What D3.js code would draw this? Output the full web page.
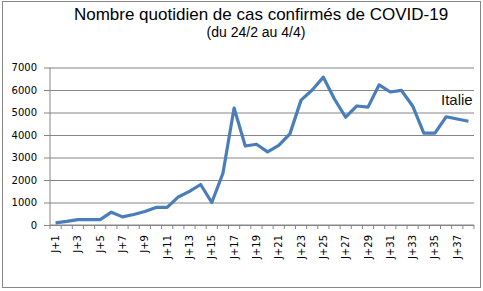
<!DOCTYPE html>
<html lang="fr">
<head>
    <meta charset="UTF-8">
    <title>Nombre quotidien de cas confirmés de COVID-19</title>
    <script src="https://d3js.org/d3.v7.min.js"></script>
    <style>
        body { margin: 0; background: #fff; }
        svg { display: block; }
    </style>
</head>
<body>
    <svg width="483" height="291"></svg>
    <script>
        // Data (Italy, daily new confirmed cases)
        const days = d3.range(1, 39).map(i => "J+" + i);
        const cases = [93, 160, 240, 240, 240, 570, 360, 466, 600, 780,
                       780, 1247, 1492, 1800, 1000, 2300, 5200, 3510, 3590, 3250,
                       3540, 4050, 5550, 6000, 6570, 5590, 4790, 5290, 5240, 6230,
                       5910, 5980, 5290, 4080, 4080, 4810, 4710, 4610];
        const yTicks = [0, 1000, 2000, 3000, 4000, 5000, 6000, 7000];
        const seriesName = "Italie";

        const plot = { left: 50, right: 474, top: 67.5, bottom: 225 };
        const grey = "#868686";

        const svg = d3.select("svg");

        // outer frame
        svg.append("rect")
            .attr("x", 2.5).attr("y", 1.5)
            .attr("width", 478).attr("height", 286)
            .attr("fill", "none")
            .attr("stroke", grey);

        // titles
        svg.append("text")
            .attr("x", 261).attr("y", 19.5)
            .attr("text-anchor", "middle")
            .style("font", "17px 'Liberation Sans', Arial, sans-serif")
            .text("Nombre quotidien de cas confirmés de COVID-19");

        svg.append("text")
            .attr("x", 256).attr("y", 36.5)
            .attr("text-anchor", "middle")
            .style("font", "14px 'Liberation Sans', Arial, sans-serif")
            .text("(du 24/2 au 4/4)");

        // scales
        const x = d3.scaleBand().domain(days).range([plot.left, plot.right]).padding(0);
        const y = d3.scaleLinear().domain([0, 7000]).range([plot.bottom, plot.top]);

        // y axis with gridlines
        const yAxis = svg.append("g")
            .attr("transform", `translate(${plot.left},0)`)
            .call(d3.axisLeft(y).tickValues(yTicks).tickFormat(d3.format("d"))
                .tickSize(-(plot.right - plot.left)).tickPadding(13));
        yAxis.select(".domain").remove();
        yAxis.selectAll(".tick line")
            .attr("x1", -6)
            .attr("stroke", grey);
        yAxis.selectAll(".tick text")
            .style("font", "10px 'DejaVu Sans', sans-serif")
            .attr("fill", "#000");

        svg.append("line")
            .attr("x1", plot.left).attr("x2", plot.left)
            .attr("y1", plot.top).attr("y2", plot.bottom)
            .attr("stroke", grey);

        // x axis: ticks between categories, labels on odd days
        const xAxis = svg.append("g")
            .attr("transform", `translate(0,${plot.bottom})`)
            .call(d3.axisBottom(x).tickSize(0).tickFormat((d, i) => i % 2 === 0 ? d : ""));
        xAxis.select(".domain").remove();
        xAxis.selectAll(".tick text")
            .attr("transform", "rotate(-90)")
            .attr("text-anchor", "end")
            .attr("x", -10)
            .attr("y", 0)
            .attr("dy", "0.35em")
            .style("font", "10px 'DejaVu Sans', sans-serif")
            .attr("fill", "#000");

        const bounds = days.map(d => x(d)).concat([plot.right]);
        svg.append("g").selectAll("line")
            .data(bounds)
            .join("line")
            .attr("x1", d => d).attr("x2", d => d)
            .attr("y1", plot.bottom).attr("y2", plot.bottom + 4)
            .attr("stroke", grey);

        svg.append("line")
            .attr("x1", plot.left).attr("x2", plot.right)
            .attr("y1", plot.bottom).attr("y2", plot.bottom)
            .attr("stroke", grey);

        // the series
        const line = d3.line()
            .x((d, i) => x(days[i]) + x.bandwidth() / 2)
            .y(d => y(d));

        svg.append("path")
            .datum(cases)
            .attr("fill", "none")
            .attr("stroke", "#4a7ebb")
            .attr("stroke-width", 3.2)
            .attr("stroke-linejoin", "round")
            .attr("d", line);

        svg.append("text")
            .attr("x", 441).attr("y", 105)
            .style("font", "15px 'Liberation Sans', Arial, sans-serif")
            .attr("fill", "#111")
            .text(seriesName);
    </script>
</body>
</html>
